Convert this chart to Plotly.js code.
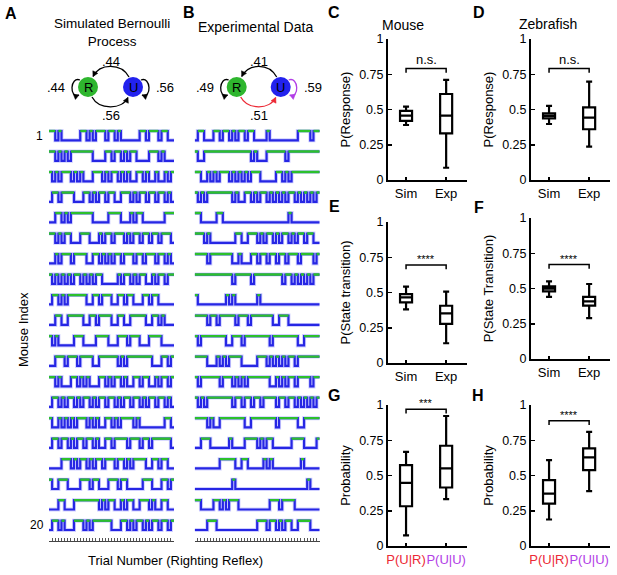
<!DOCTYPE html>
<html><head><meta charset="utf-8">
<script src="https://cdn.plot.ly/plotly-3.0.1.min.js"></script>
<style>html,body{margin:0;padding:0;background:#fff}#chart{width:617px;height:575px}</style>
</head><body><div id="chart"></div>
<script>
// ---------------- DATA ----------------
// Panel A: simulated Bernoulli process, 20 mice x 40 trials (1 = righting / R, 0 = U)
const simRows = [
"1101000000110101110110100000011011101100",
"1101010111111100001101101011000011101000",
"1010111010100011101011010100110100100101",
"0110111100011010110110011101011011011010",
"0011010111111100000111100010110000000111",
"1101011000111000101101110101101101101110",
"0010111011110011010101101110110111011010",
"1010101011010101100000101101011001011011",
"0110101111110011011100110110001101100000",
"0011001111100110111100110011111001101000",
"1010000011100001111000111011100011110000",
"0011101110111100111111010111111110001101",
"1101000110101000110101101001101100101101",
"0110101101011010110110101101101011011010",
"1001010101110101001101011110100000000110",
"0110110101101101001101111011101101111110",
"0000111010110101101110110101111001101100",
"1001110000111011000111011000001110001101",
"0001100011111111010110010110011101001100",
"0110100011101011111100011010110101101101"
];
// Panel B: experimental data, 20 mice x 40 trials
const expRows = [
"0110001101101011011000010000000001111011",
"1001111111111111110100011111101111111111",
"1100101011101010101110000011010111111111",
"1010111111110100110101101010101101010101",
"1100000110000000000000000000001000000000",
"1110100000000110011101011010110101101100",
"1111011111110010001101101101101110111101",
"1111111111110111110111111111011010101011",
"1000000000101000000010000000000000000000",
"1111011011111011101111111001110000000000",
"1011111111001110111111110111111110011111",
"1111000101011110000011101010101101111111",
"1011111101110101011111110010101101111011",
"1010111111110110110110111101101101010101",
"1111010011111111001111111101111110011111",
"0011100000010000111101011000000111100001",
"0000000011111001100000101000000000100000",
"0000000000001000000000000000000000001000",
"1100001101011100000000001110111100000000",
"0000111000000000000011101101011001111000"
];
// Transition probabilities [R->R, U->R (top), R->U (bottom), U->U]
const simProbs = [".44", ".44", ".56", ".56"];
const expProbs = [".49", ".41", ".51", ".59"];
// Box statistics: [lower whisker, q1, median, q3, upper whisker]
const boxCategories = ["Sim", "Exp"];
const condCategories = ["P(U|R)", "P(U|U)"];
const mouseRespSim = [0.39, 0.42, 0.456, 0.49, 0.52];
const mouseRespExp = [0.087, 0.33, 0.456, 0.61, 0.71];
const fishRespSim = [0.397, 0.437, 0.455, 0.473, 0.525];
const fishRespExp = [0.236, 0.36, 0.442, 0.515, 0.697];
const mouseTransSim = [0.38, 0.43, 0.466, 0.489, 0.541];
const mouseTransExp = [0.14, 0.277, 0.352, 0.406, 0.506];
const fishTransSim = [0.44, 0.48, 0.499, 0.515, 0.55];
const fishTransExp = [0.29, 0.378, 0.409, 0.44, 0.532];
const mouseCondUR = [0.076, 0.282, 0.448, 0.574, 0.668];
const mouseCondUU = [0.332, 0.415, 0.55, 0.711, 0.922];
const fishCondUR = [0.188, 0.301, 0.372, 0.467, 0.609];
const fishCondUU = [0.389, 0.538, 0.628, 0.692, 0.81];
const sigLabels = ["n.s.", "n.s.", "****", "****", "***", "****"];
const sigHeights = [0.79, 0.79, 0.695, 0.67, 0.97, 0.888];
const yTickVals = [0, 0.25, 0.5, 0.75, 1];
const yTickText = ["0", "0.25", "0.5", "0.75", "1"];

// ---------------- STYLE / LAYOUT ----------------
const W = 617, H = 575;
const FONT = "Liberation Sans, Arial, Helvetica, sans-serif";
const BLUE = "rgb(38,38,228)", GREEN = "rgb(44,192,44)";
const RED = "#ec2a36", PURPLE = "#b23ee6";
const ROW_GAP = 2.2;
const px = p => p / W;
const py = p => 1 - p / H;

const traces = [];
const layout = {
  width: W, height: H, margin: {l: 0, r: 0, t: 0, b: 0},
  paper_bgcolor: "white", plot_bgcolor: "rgba(0,0,0,0)",
  showlegend: false, font: {family: FONT, size: 12, color: "black"},
  shapes: [], annotations: []
};

function stepTraces(rows, xa, ya) {
  const bx = [], by = [], gx = [], gy = [];
  rows.forEach((s, r) => {
    const st = s.split("").map(Number);
    const base = -r * ROW_GAP;
    st.forEach((v, t) => { bx.push(t, t + 1); by.push(base + v, base + v); });
    bx.push(null); by.push(null);
    let t = 0;
    while (t < st.length) {
      if (st[t] === 1) {
        let e = t; while (e < st.length && st[e] === 1) e++;
        gx.push(t, e, null); gy.push(base + 1, base + 1, null); t = e;
      } else t++;
    }
  });
  traces.push({type: "scatter", mode: "lines", x: bx, y: by, xaxis: xa, yaxis: ya,
    line: {color: "rgba(120,120,255,0.35)", width: 4}, hoverinfo: "skip"});
  traces.push({type: "scatter", mode: "lines", x: bx, y: by, xaxis: xa, yaxis: ya,
    line: {color: BLUE, width: 2.2}, hoverinfo: "skip"});
  traces.push({type: "scatter", mode: "lines", x: gx, y: gy, xaxis: xa, yaxis: ya,
    line: {color: GREEN, width: 2.4}, hoverinfo: "skip"});
}

const nTrials = simRows[0].length;
const traceY = {domain: [py(541), py(125)], range: [-42.98, 1.644], visible: false, fixedrange: true};
function traceX(d0, d1, anchor) {
  return {domain: [px(d0), px(d1)], range: [0, nTrials], anchor: anchor, showline: true, linecolor: "#444",
    linewidth: 1, ticks: "inside", ticklen: 3, tickwidth: 1, tickcolor: "#555", tick0: 0, dtick: 1,
    showticklabels: false, showgrid: false, zeroline: false};
}
stepTraces(simRows, "x", "y");
stepTraces(expRows, "x2", "y2");
layout.xaxis = traceX(49, 174, "y");
layout.yaxis = Object.assign({}, traceY, {anchor: "x"});
layout.xaxis2 = traceX(194.7, 319.7, "y2");
layout.yaxis2 = Object.assign({}, traceY, {anchor: "x2"});

// box panels
const panels = [
  {n: 3, stats: [mouseRespSim, mouseRespExp], cats: boxCategories, x: [388, 467], y: [39, 180], title: "P(Response)"},
  {n: 4, stats: [fishRespSim, fishRespExp], cats: boxCategories, x: [531, 610], y: [39, 180], title: "P(Response)"},
  {n: 5, stats: [mouseTransSim, mouseTransExp], cats: boxCategories, x: [388, 467], y: [222, 363], title: "P(State transition)"},
  {n: 6, stats: [fishTransSim, fishTransExp], cats: boxCategories, x: [531, 610], y: [218, 359], title: "P(State Transition)"},
  {n: 7, stats: [mouseCondUR, mouseCondUU], cats: condCategories, x: [388, 467], y: [405, 546], title: "Probability", colored: true},
  {n: 8, stats: [fishCondUR, fishCondUU], cats: condCategories, x: [531, 610], y: [405, 546], title: "Probability", colored: true}
];
panels.forEach((p, i) => {
  const xa = "x" + p.n, ya = "y" + p.n;
  const pos = p.stats.map((s, k) => k);
  traces.push({type: "box", x: pos, lowerfence: p.stats.map(s => s[0]), q1: p.stats.map(s => s[1]),
    median: p.stats.map(s => s[2]), q3: p.stats.map(s => s[3]), upperfence: p.stats.map(s => s[4]),
    xaxis: xa, yaxis: ya, width: 0.3, whiskerwidth: 0.5, boxpoints: false,
    line: {color: "black", width: 2.2}, fillcolor: "rgba(0,0,0,0)", hoverinfo: "skip"});
  const h = sigHeights[i];
  traces.push({type: "scatter", mode: "lines", x: [pos[0], pos[0], pos[1], pos[1]], y: [h - 0.03, h, h, h - 0.03],
    xaxis: xa, yaxis: ya, line: {color: "black", width: 1.5}, cliponaxis: false, hoverinfo: "skip"});
  const tt = p.colored
    ? p.cats.map((c, k) => `<span style="color:${k === 0 ? RED : PURPLE}">${c}</span>`)
    : p.cats;
  layout["xaxis" + p.n] = {domain: [px(p.x[0]), px(p.x[1])], anchor: ya, range: [-0.45, 1.52],
    tickvals: pos, ticktext: tt, tickangle: 0, ticks: "inside", ticklen: 3, tickwidth: 1.5, tickcolor: "black",
    showline: true, linewidth: 2, linecolor: "black", showgrid: false, zeroline: false,
    tickfont: {size: 13}, fixedrange: true};
  layout["yaxis" + p.n] = {domain: [py(p.y[1]), py(p.y[0])], anchor: xa, range: [0, 1],
    tickvals: yTickVals, ticktext: yTickText, ticks: "inside", ticklen: 4, tickwidth: 1.5, tickcolor: "black",
    showline: true, linewidth: 2, linecolor: "black", showgrid: false, zeroline: false,
    tickfont: {size: 12.5}, title: {text: p.title, font: {size: 13}, standoff: 6}, fixedrange: true};
  layout.annotations.push({xref: xa, yref: ya, x: 0.5 * (pos[0] + pos[1]), y: h, yanchor: "bottom",
    text: sigLabels[i], showarrow: false, font: {size: sigLabels[i] === "n.s." ? 13 : 11},
    yshift: sigLabels[i] === "n.s." ? 0 : -2});
});

// pixel overlay axis for diagrams and free text
layout.xaxis9 = {domain: [0, 1], range: [0, W], visible: false, anchor: "y9", fixedrange: true};
layout.yaxis9 = {domain: [0, 1], range: [H, 0], visible: false, anchor: "x9", fixedrange: true};
traces.push({type: "scatter", x: [], y: [], xaxis: "x9", yaxis: "y9", hoverinfo: "skip"});

function txt(x, y, t, size, opts) {
  layout.annotations.push(Object.assign({xref: "x9", yref: "y9", x: x, y: y, text: t, showarrow: false,
    font: {size: size, family: FONT, color: "black"}}, opts || {}));
}
function arrowHead(tx, ty, dx, dy, color) {
  const L = Math.hypot(dx, dy), ux = dx / L, uy = dy / L, len = 5, w = 2.8;
  const bx = tx - ux * len, by = ty - uy * len, nx = -uy, ny = ux;
  layout.shapes.push({type: "path", xref: "x9", yref: "y9",
    path: `M ${tx} ${ty} L ${bx + nx * w} ${by + ny * w} L ${bx - nx * w} ${by - ny * w} Z`,
    fillcolor: color, line: {color: color, width: 0.5}});
}
function curve(p0, c1, c2, p1, color) {
  layout.shapes.push({type: "path", xref: "x9", yref: "y9",
    path: `M ${p0[0]} ${p0[1]} C ${c1[0]} ${c1[1]}, ${c2[0]} ${c2[1]}, ${p1[0]} ${p1[1]}`,
    line: {color: color, width: 1.3}});
  arrowHead(p1[0], p1[1], p1[0] - c2[0], p1[1] - c2[1], color);
}
function diagram(Rx, Ux, probs, cols) {
  const cy = 87, r = 10;
  curve([Ux - 4, 77], [Ux - 12, 63], [Rx + 12, 63], [Rx + 5, 76.5], cols[1]);
  curve([Rx + 4, 97], [Rx + 11, 110], [Ux - 11, 110], [Ux - 5, 97.5], cols[2]);
  curve([Rx - 8, 80], [Rx - 18, 76], [Rx - 19, 99], [Rx - 9, 95], cols[0]);
  curve([Ux + 8, 80], [Ux + 18, 76], [Ux + 19, 99], [Ux + 9, 95], cols[3]);
  layout.shapes.push({type: "circle", xref: "x9", yref: "y9", x0: Rx - r, x1: Rx + r, y0: cy - r, y1: cy + r,
    fillcolor: "rgb(46,182,46)", line: {width: 0}});
  layout.shapes.push({type: "circle", xref: "x9", yref: "y9", x0: Ux - r, x1: Ux + r, y0: cy - r, y1: cy + r,
    fillcolor: "rgb(34,34,238)", line: {width: 0}});
  txt(Rx, cy, "R", 13);
  txt(Ux, cy, "U", 13);
  txt(Rx - 32, cy, probs[0], 13);
  txt((Rx + Ux) / 2, 61, probs[1], 13);
  txt((Rx + Ux) / 2, 115, probs[2], 13);
  txt(Ux + 32, cy, probs[3], 13);
}
diagram(88, 133, simProbs, ["black", "black", "black", "black"]);
diagram(236.7, 280.7, expProbs, ["black", "black", RED, PURPLE]);

// titles and labels
txt(112, 32.5, "Simulated Bernoulli<br>Process", 13.5);
txt(255, 27, "Experimental Data", 14);
txt(403, 25, "Mouse", 14);
txt(548, 24, "Zebrafish", 14);
txt(11, 13, "<b>A</b>", 16);
txt(189, 12, "<b>B</b>", 16);
txt(334, 12, "<b>C</b>", 16);
txt(479, 12, "<b>D</b>", 16);
txt(334, 206, "<b>E</b>", 16);
txt(479, 207, "<b>F</b>", 16);
txt(334, 395, "<b>G</b>", 16);
txt(478, 395, "<b>H</b>", 16);
txt(45, 136, "1", 12, {xanchor: "right"});
txt(46, 525, "20", 12, {xanchor: "right"});
txt(23, 330, "Mouse Index", 13, {textangle: -90});
txt(175, 560, "Trial Number (Righting Reflex)", 13);

Plotly.newPlot("chart", traces, layout, {staticPlot: true, displayModeBar: false});
</script></body></html>
